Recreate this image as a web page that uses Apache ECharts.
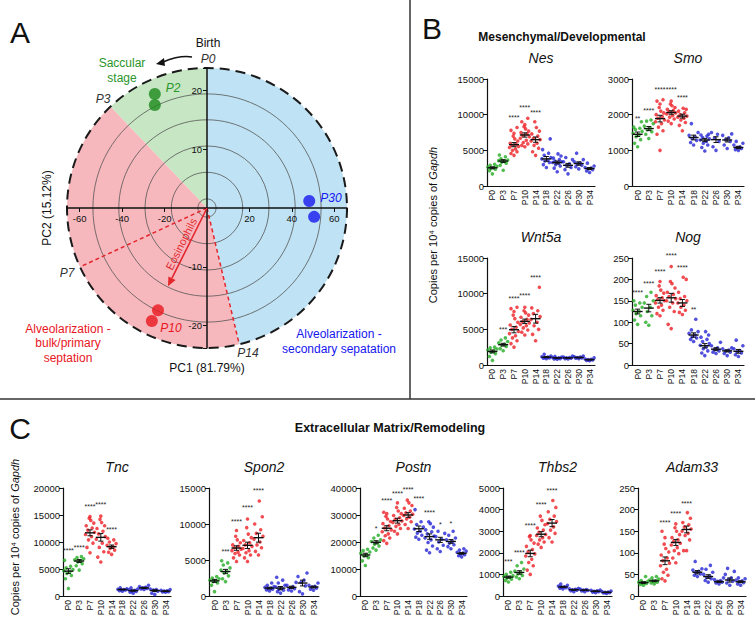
<!DOCTYPE html>
<html><head><meta charset="utf-8">
<script src="https://cdn.jsdelivr.net/npm/echarts@6/dist/echarts.min.js"></script>
<style>html,body{margin:0;padding:0;background:#fff}#c{width:755px;height:626px}</style>
</head><body><div id="c"></div>
<script>
// ---------- DATA ----------
const cats = ['P0','P3','P7','P10','P14','P18','P22','P26','P30','P34'];

// Panel A: PCA scores (PC1, PC2)
const pcaP2  = [[-24.6, 19.4], [-24.6, 17.5]];
const pcaP10 = [[-23.1, -17.4], [-26.0, -19.2]];
const pcaP30 = [[48.2, 1.2], [50.5, -1.5]];
const eosArrow = [-18.4, -13.3];           // loading vector end
const stageAngles = [90, 133.6, 283.3];   // P0, P3, P14 boundaries (deg)
const p7Angle = 204.9;                    // P7 boundary (deg)
const ringFractions = [0.065, 0.255, 0.443, 0.63, 0.815];

// Panel B/C: copies per 10^4 copies of Gapdh (individual points per age)
const nesPts = [
 [1700,2150,2350,2450,2550,2650,2750,2900,3050],
 [2200,2900,3200,3350,3450,3550,3650,3800,4100,4350],
 [4300,4550,4800,5000,5200,5400,5550,5700,5850,6000,6300,6600,7000,7400,7800,8200],
 [5500,5700,5900,6100,6400,6700,6900,7100,7300,7500,7700,8000,8300,8600,9000,9500],
 [4300,4800,5300,5700,6000,6300,6500,6700,7000,7300,7700,8200,9000],
 [2600,3000,3300,3500,3650,3800,4000,4300,4600,5100,6600],
 [2000,2500,2800,3000,3200,3300,3400,3500,3700,3900,4200,4500],
 [1700,2300,2600,2900,3100,3400,3700,4000],
 [2400,2700,2900,3100,3200,3400,3700,4600],
 [1900,2100,2300,2400,2500,2600,2800,3200]];
const nesMean = [2550,3500,5800,7150,6500,3800,3300,2900,3150,2450];
const nesStars = [[2,'****',9800],[3,'****',11100],[4,'****',10500]];

const smoPts = [
 [1100,1200,1300,1380,1430,1480,1530,1580,1620,1650,1800],
 [1330,1450,1520,1580,1620,1680,1750,1820,1850],
 [1000,1450,1550,1650,1750,1800,1850,1900,1950,2000,2050,2100,2200,2300,2380,2420],
 [1750,1820,1880,1930,1980,2020,2050,2080,2120,2150,2200,2250,2300,2380],
 [1550,1700,1780,1850,1900,1930,1960,2000,2050,2100,2150,2180],
 [1150,1220,1280,1330,1380,1420,1500,1750],
 [980,1080,1150,1200,1250,1290,1320,1360,1400,1430,1450],
 [1000,1100,1250,1350,1450,1500],
 [1050,1150,1250,1300,1350,1420,1460],
 [1000,1020,1050,1080,1100,1150,1200,1250]];
const smoMean = [1450,1610,1890,2060,1960,1360,1290,1300,1290,1080];
const smoStars = [[0,'**',1920],[1,'****',2150],[2,'****',2720],[3,'****',2720],[4,'****',2500]];

const wntPts = [
 [650,1200,1600,1800,1950,2100,2250,2400,2500],
 [2000,2300,2600,2800,2900,3100,3300,3500,3800],
 [2500,3000,3400,3800,4100,4400,4700,5000,5300,5600,6000,6500,7000,7500,7900,8100],
 [4200,4600,4900,5200,5500,5700,5900,6100,6400,6700,7000,7300,7600,8100],
 [3400,4300,5000,5500,6000,6400,6800,7200,7600,8000,10900],
 [900,950,1000,1050,1100,1150,1250,1500],
 [800,850,900,950,1000,1050,1100,1200],
 [850,900,950,1000,1050,1100,1250],
 [900,950,1000,1050,1100,1150,1250],
 [600,650,700,750,800,850,1000]];
const wntMean = [1900,2850,4950,6120,6490,1100,1000,1000,1050,750];
const wntStars = [[1,'***',5180],[2,'****',9530],[3,'****',9850],[4,'****',12470]];

const nogPts = [
 [95,105,115,120,125,128,135,140,145,150],
 [93,100,115,125,135,145,150,160,170],
 [115,120,128,135,140,145,150,153,157,162,168,175,185,195],
 [85,95,125,135,145,150,155,160,165,170,180,190,195,230],
 [118,123,128,135,140,145,150,155,160,170,200,205],
 [55,60,63,66,70,74,78,82,107],
 [22,28,33,38,42,46,50,55,60,65,70,78],
 [27,30,33,36,40,45,53],
 [22,27,30,33,35,38,40],
 [20,24,28,31,34,38,45,58]];
const nogMean = [125,133,151,157,145,70,45,37,33,32];
const nogStars = [[0,'****',172],[1,'****',192],[2,'****',220],[3,'****',258],[4,'****',230],[5,'**',133]];

const tncPts = [
 [1400,3200,3800,4200,4500,4700,4900,5200,5500,6600],
 [4800,5600,6000,6300,6500,6700,6900,7100,7300],
 [8000,9000,9800,10400,11000,11400,11800,12200,12600,13000,13500,14000,14400,14700],
 [6300,7200,8200,9000,9800,10500,11000,11500,12000,12500,13000,13600,14200,14800],
 [7700,8100,8500,8800,9100,9400,9700,10000,10400,10700],
 [900,1000,1100,1150,1200,1250,1350,1500],
 [500,700,850,950,1050,1150,1300,1500],
 [1200,1300,1400,1500,1600,1750,2000],
 [300,500,900,1100,1200,1300],
 [700,750,800,900,950,1050,1200]];
const tncMean = [4600,6480,11700,10860,9130,1200,1000,1500,1000,900];
const tncStars = [[0,'****',8700],[1,'****',9250],[2,'****',16700],[3,'****',17150],[4,'****',12500]];

const sponPts = [
 [600,1500,1800,2000,2100,2200,2400,2500,2700],
 [2000,2400,2800,3200,3400,3600,3900,4300,4600,4900],
 [4800,5300,5700,5900,6100,6300,6500,6700,6900,7100,7400,7800,8300,9100],
 [4800,5300,5700,6000,6300,6600,6900,7100,7400,7700,8100,8600,9500,10700],
 [5700,6200,6700,7100,7500,7900,8300,8700,9200,10000,11000,13200],
 [700,850,950,1050,1100,1200,1300,1500,1800],
 [400,600,800,950,1100,1250,1500,1800,2200,2600],
 [700,850,1000,1150,1300,1500,1900],
 [300,600,1400,1900,2200,2700,3200],
 [800,950,1100,1250,1350,1500,1800]];
const sponMean = [2100,3400,6660,7040,8100,1100,1100,1200,1800,1250];
const sponStars = [[1,'***',6340],[2,'****',10530],[3,'****',12400],[4,'****',14800]];

const postnPts = [
 [11300,13000,14200,14800,15300,15800,16300,16800,17300],
 [17000,17800,18500,19200,19700,20200,20800,21500,22500],
 [19500,20500,21500,22300,23000,23800,24500,25200,26000,26800,27600,28500,29500,30500,31000],
 [23000,24000,25000,25800,26500,27200,27800,28400,29000,29800,30500,31500,32800,34500],
 [25000,26500,27500,28500,29200,29800,30300,30800,31500,32500,33500,34500,35500],
 [21000,21800,22500,23300,24000,24800,25500,26500,27500,32000],
 [16000,17000,18500,19800,20800,21500,22200,23000,23800,24500,25500,26800,27500],
 [16500,17500,18800,20000,21000,22000,23200,24000],
 [17500,18300,19000,19600,20200,20800,21500,22500,24000],
 [14500,14900,15300,15600,15900,16200,16600,17000,17500]];
const postnMean = [15200,19900,25100,27900,30000,24900,22000,20800,20200,15800];
const postnStars = [[1,'*',25300],[2,'****',35600],[3,'****',38500],[4,'****',39700],[5,'****',36600],[6,'****',31300],[7,'*',27000],[8,'*',27400]];

const thbsPts = [
 [650,720,780,830,870,910,950,1000,1100],
 [800,880,950,1020,1080,1150,1250,1400,1550],
 [1000,1200,1400,1550,1700,1850,1950,2050,2150,2300,2450,2600,2750,2800],
 [2250,2400,2500,2600,2700,2800,2850,2950,3050,3150,3300,3500,3700],
 [2500,2700,2900,3050,3200,3350,3450,3550,3700,3900,4100,4420],
 [330,360,390,410,430,460,500,550],
 [200,240,270,290,310,330,350],
 [200,230,260,280,300,320],
 [150,180,200,220,240,260,280],
 [120,140,155,170,185,200,230]];
const thbsMean = [875,1090,1970,2860,3375,420,290,270,220,170];
const thbsStars = [[0,'***',1640],[1,'****',2080],[2,'****',3330],[3,'****',4270],[4,'****',4940]];

const adamPts = [
 [25,27,29,30,31,32,34,36,45],
 [28,30,32,34,35,37,39,42,45],
 [35,40,48,55,62,70,76,82,88,95,102,110,120,135,150],
 [77,88,98,105,112,118,122,126,130,135,142,150,158,167],
 [105,105,130,140,145,150,155,160,165,170,180,193],
 [45,48,51,54,57,60,63,80],
 [32,36,40,43,46,50,55,62,71],
 [28,30,32,34,36,38,42],
 [25,30,34,38,42,50,57,64],
 [25,28,31,33,35,37,40,42]];
const adamMean = [31,35,81.5,124,154,55,45,33,37,33];
const adamStars = [[2,'****',173],[3,'****',193],[4,'****',216]];

// ---------- STYLE / LAYOUT ----------
const FONT = '"Liberation Sans", Arial, Helvetica, sans-serif';
const groupColor = ['#26ad26','#26ad26','#ee1f26','#ee1f26','#ee1f26','#2626d4','#2626d4','#2626d4','#2626d4','#2626d4'];
const jitter = [0,-3,3,-1.5,1.5,-4.5,4.5,-2.2,2.2,-3.8,3.8,0.8,-0.8];

const genes = [
 {name:'Nes',   pts:nesPts,   mean:nesMean,   stars:nesStars,   max:15000, step:5000,  box:[487,79,108,107]},
 {name:'Smo',   pts:smoPts,   mean:smoMean,   stars:smoStars,   max:3000,  step:1000,  box:[632,79,112,107]},
 {name:'Wnt5a', pts:wntPts,   mean:wntMean,   stars:wntStars,   max:15000, step:5000,  box:[487,258,108,107]},
 {name:'Nog',   pts:nogPts,   mean:nogMean,   stars:nogStars,   max:250,   step:50,    box:[632,258,112,107]},
 {name:'Tnc',   pts:tncPts,   mean:tncMean,   stars:tncStars,   max:20000, step:5000,  box:[63,488,108,108]},
 {name:'Spon2', pts:sponPts,  mean:sponMean,  stars:sponStars,  max:15000, step:5000,  box:[209,488,110,108]},
 {name:'Postn', pts:postnPts, mean:postnMean, stars:postnStars, max:40000, step:10000, box:[360,488,107,108]},
 {name:'Thbs2', pts:thbsPts,  mean:thbsMean,  stars:thbsStars,  max:5000,  step:1000,  box:[503,488,109,108]},
 {name:'Adam33',pts:adamPts,  mean:adamMean,  stars:adamStars,  max:250,   step:50,    box:[638,488,108,108]}
];

function sem(a){const n=a.length;const m=a.reduce((s,v)=>s+v,0)/n;const v=a.reduce((s,x)=>s+(x-m)*(x-m),0)/(n-1);return Math.sqrt(v/n);}
function txt(text,x,y,o){o=o||{};return {type:'text',x:x,y:y,rotation:o.rot||0,z:50,silent:true,style:{text:text,fill:o.color||'#111',fontSize:o.size||12,fontFamily:FONT,fontStyle:o.italic?'italic':'normal',fontWeight:o.bold?'bold':'normal',align:o.align||'center',verticalAlign:'middle',textAlign:o.align||'center',textVerticalAlign:'middle',rich:o.rich}};}
const plain = v => String(v);

const grids=[], xAxes=[], yAxes=[], series=[], graphics=[];
const axisCol = '#111';

function meanRender(params, api){
  const g=api.value(0), m=api.value(1), s=api.value(2);
  const c=api.coord([g,m]), hi=api.coord([g,m+s]), lo=api.coord([g,m-s]);
  const hw=5, cw=2.5;
  return {type:'group',children:[
    {type:'line',shape:{x1:c[0]-hw,y1:c[1],x2:c[0]+hw,y2:c[1]},style:{stroke:'#111',lineWidth:1.4}},
    {type:'line',shape:{x1:c[0],y1:hi[1],x2:c[0],y2:lo[1]},style:{stroke:'#111',lineWidth:1}},
    {type:'line',shape:{x1:c[0]-cw,y1:hi[1],x2:c[0]+cw,y2:hi[1]},style:{stroke:'#111',lineWidth:1}},
    {type:'line',shape:{x1:c[0]-cw,y1:lo[1],x2:c[0]+cw,y2:lo[1]},style:{stroke:'#111',lineWidth:1}}
  ]};
}

genes.forEach((g,k)=>{
  const [l,t,w,h]=g.box;
  grids.push({left:l,top:t,width:w,height:h,containLabel:false});
  xAxes.push({type:'category',gridIndex:k,data:cats,boundaryGap:true,
    axisLine:{lineStyle:{color:axisCol,width:1.2}},
    axisTick:{alignWithLabel:true,length:3,lineStyle:{color:axisCol,width:1}},
    axisLabel:{rotate:90,interval:0,fontSize:8.5,fontFamily:FONT,color:'#111',margin:4},
    splitLine:{show:false}});
  yAxes.push({type:'value',gridIndex:k,min:0,max:g.max,interval:g.step,
    axisLine:{show:true,lineStyle:{color:axisCol,width:1.2}},
    axisTick:{show:true,length:4,lineStyle:{color:axisCol,width:1}},
    axisLabel:{fontSize:9.5,fontFamily:FONT,color:'#111',margin:3,formatter:plain},
    splitLine:{show:false}});
  const dots=[];
  g.pts.forEach((vals,gi)=>{
    vals.slice().sort((a,b)=>a-b).forEach((v,j)=>{
      dots.push({value:[gi,v],symbolOffset:[jitter[j%jitter.length],0],itemStyle:{color:groupColor[gi]}});
    });
  });
  series.push({type:'scatter',xAxisIndex:k,yAxisIndex:k,data:dots,symbolSize:3.6,z:3,silent:true});
  series.push({type:'custom',xAxisIndex:k,yAxisIndex:k,z:4,silent:true,
    data:g.mean.map((m,gi)=>[gi,m,sem(g.pts[gi])]),encode:{x:0,y:1},renderItem:meanRender});
  const starTexts=g.stars.map(s=>s[1]);
  series.push({type:'custom',xAxisIndex:k,yAxisIndex:k,z:4,silent:true,clip:false,
    data:g.stars.map(s=>[s[0],s[2]]),encode:{x:0,y:1},
    renderItem:(p,api)=>{const c=api.coord([api.value(0),api.value(1)]);
      return {type:'text',x:c[0],y:c[1]+1,style:{text:starTexts[p.dataIndex],fill:'#222',fontSize:7,fontFamily:FONT,align:'center',verticalAlign:'middle',textAlign:'center',textVerticalAlign:'middle'}};}});
  graphics.push(txt(g.name,l+w/2,t-21,{size:14,italic:true}));
});

// ---------- Panel A ----------
const A = genes.length;
grids.push({left:67,top:68,width:280,height:280,containLabel:false});
xAxes.push({type:'value',gridIndex:A,min:-66,max:66,z:5,position:'bottom',offset:-140,
  axisLine:{onZero:false,lineStyle:{color:'#111',width:1.5}},
  axisTick:{customValues:[-66,-60,-40,-20,20,40,60,66],length:4,lineStyle:{color:'#111'}},
  axisLabel:{customValues:[-60,-40,-20,20,40,60],fontSize:9.5,fontFamily:FONT,color:'#111',margin:5},
  splitLine:{show:false}});
yAxes.push({type:'value',gridIndex:A,min:-23.8,max:23.8,z:5,position:'left',offset:-140,
  axisLine:{onZero:false,lineStyle:{color:'#111',width:1.5}},
  axisTick:{customValues:[-23.8,-20,-10,10,20,23.8],length:4,lineStyle:{color:'#111'}},
  axisLabel:{customValues:[-20,-10,10,20],fontSize:9.5,fontFamily:FONT,color:'#111',margin:5},
  splitLine:{show:false}});

const sectorColors = ['#c7e6c3','#f7b8bd','#bfe3f4'];
const deg = Math.PI/180;
series.push({type:'custom',xAxisIndex:A,yAxisIndex:A,z:-1,silent:true,data:[[0,0]],encode:{x:0,y:1},
  renderItem:(p,api)=>{
    const o=api.coord([0,0]); const r=api.coord([66,0])[0]-o[0];
    const bounds=[stageAngles[0],stageAngles[1],stageAngles[2],stageAngles[0]+360];
    const ch=[];
    for(let i=0;i<3;i++){
      ch.push({type:'sector',shape:{cx:o[0],cy:o[1],r0:0,r:r,startAngle:-bounds[i+1]*deg,endAngle:-bounds[i]*deg,clockwise:true},style:{fill:sectorColors[i]}});
    }
    ringFractions.forEach(f=>ch.push({type:'circle',shape:{cx:o[0],cy:o[1],r:r*f},style:{fill:null,stroke:'#555',lineWidth:0.8}}));
    [p7Angle,stageAngles[2]].forEach(a=>ch.push({type:'line',shape:{x1:o[0],y1:o[1],x2:o[0]+r*Math.cos(a*deg),y2:o[1]-r*Math.sin(a*deg)},style:{stroke:'#e3262c',lineWidth:1.5,lineDash:[4,3]}}));
    ch.push({type:'circle',shape:{cx:o[0],cy:o[1],r:r},style:{fill:null,stroke:'#1a1a1a',lineWidth:2,lineDash:[10,6]}});
    return {type:'group',children:ch};
  }});

[[pcaP2,'#1c8a1c'],[pcaP10,'#e8161e'],[pcaP30,'#1616ee']].forEach(([d,c])=>{
  series.push({type:'scatter',xAxisIndex:A,yAxisIndex:A,z:6,silent:true,data:d,symbolSize:12,itemStyle:{color:c}});
});

series.push({type:'custom',xAxisIndex:A,yAxisIndex:A,z:7,silent:true,data:[eosArrow],encode:{x:0,y:1},
  renderItem:(p,api)=>{
    const o=api.coord([0,0]); const e=api.coord([api.value(0),api.value(1)]);
    const dx=e[0]-o[0], dy=e[1]-o[1], L=Math.hypot(dx,dy); const ux=dx/L, uy=dy/L;
    const hl=9, hw=4; const bx=e[0]-ux*hl, by=e[1]-uy*hl;
    const col='#e3262c';
    const mx=(o[0]+e[0])/2, my=(o[1]+e[1])/2;
    const px=-uy, py=ux; // perpendicular
    return {type:'group',children:[
      {type:'line',shape:{x1:o[0],y1:o[1],x2:bx,y2:by},style:{stroke:col,lineWidth:1.6}},
      {type:'polygon',shape:{points:[[e[0],e[1]],[bx+px*hw,by+py*hw],[bx-px*hw,by-py*hw]]},style:{fill:col}},
      {type:'text',x:mx-uy*7,y:my+ux*7,rotation:Math.atan2(uy,-ux),
        style:{text:'Eosinophils',fill:col,fontSize:11,fontFamily:FONT,align:'center',verticalAlign:'middle',textAlign:'center',textVerticalAlign:'middle'}}
    ]};
  }});

// Panel A annotations
graphics.push(
  txt('A',20,32,{size:30}),
  txt('Birth',208,43,{size:12}),
  txt('P0',208,59,{size:12,italic:true,color:'#333'}),
  txt('Saccular',122,63,{size:12,color:'#2a952a'}),
  txt('stage',122,78,{size:12,color:'#2a952a'}),
  txt('P3',103,99,{size:12,italic:true,color:'#333'}),
  txt('P2',173,88,{size:12,italic:true,color:'#2a952a'}),
  txt('P7',67,273,{size:12,italic:true,color:'#333'}),
  txt('P10',171,328,{size:12,italic:true,color:'#e8161e'}),
  txt('P14',248,353,{size:12,italic:true,color:'#333'}),
  txt('P30',331,198,{size:12,italic:true,color:'#1616ee'}),
  txt('PC1 (81.79%)',207,368,{size:12}),
  txt('PC2 (15.12%)',47,208,{size:12,rot:Math.PI/2}),
  txt('Alveolarization -',68,329,{size:12,color:'#e8161e'}),
  txt('bulk/primary',68,343,{size:12,color:'#e8161e'}),
  txt('septation',68,358,{size:12,color:'#e8161e'}),
  txt('Alveolarization -',339,334,{size:12,color:'#1616ee'}),
  txt('secondary sepatation',339,349,{size:12,color:'#1616ee'}),
  {type:'bezierCurve',z:50,silent:true,shape:{x1:192,y1:57,x2:163,y2:62,cpx1:180,cpy1:55},style:{stroke:'#111',lineWidth:1.4,fill:null}},
  {type:'polygon',z:50,silent:true,shape:{points:[[156,64],[164,58],[165,66]]},style:{fill:'#111'}},
  // Panels B, C headings
  txt('B',432,28,{size:30}),
  txt('Mesenchymal/Developmental',562,37,{size:12,bold:true}),
  txt('C',20,428,{size:30}),
  txt('Extracellular Matrix/Remodeling',390,428,{size:12.5,bold:true}),
  txt('Copies per 10\u2074 copies of {it|Gapdh}',433,225,{size:11,rot:Math.PI/2,rich:{it:{fontStyle:'italic',fontSize:11,fontFamily:FONT,fill:'#111'}}}),
  txt('Copies per 10\u2074 copies of {it|Gapdh}',15,537,{size:11,rot:Math.PI/2,rich:{it:{fontStyle:'italic',fontSize:11,fontFamily:FONT,fill:'#111'}}}),
  // dividers
  {type:'line',z:50,silent:true,shape:{x1:410,y1:0,x2:410,y2:399},style:{stroke:'#333',lineWidth:1.5}},
  {type:'line',z:50,silent:true,shape:{x1:0,y1:399,x2:755,y2:399},style:{stroke:'#333',lineWidth:1.5}}
);

const chart = echarts.init(document.getElementById('c'), null, {renderer:'svg'});
chart.setOption({
  animation:false, backgroundColor:'#fff',
  grid:grids, xAxis:xAxes, yAxis:yAxes, series:series, graphic:{elements:graphics}
});
</script></body></html>
